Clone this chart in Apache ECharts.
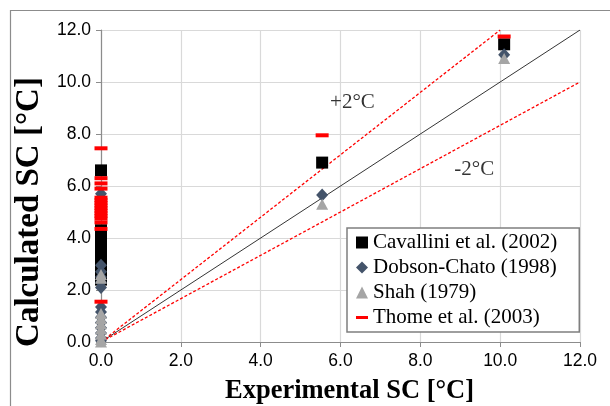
<!DOCTYPE html>
<html><head><meta charset="utf-8">
<script src="https://cdn.jsdelivr.net/npm/echarts@6/dist/echarts.min.js"></script>
<style>html,body{margin:0;padding:0;background:#fff}#c{width:610px;height:406px}</style>
</head><body><div id="c"></div>
<script>
// Data
const cavalliniX = [0,0,0,0,0,0,0,0,0,0,0,0,0,0,0,0,0,0,0,0,0,0,0,5.54,10.1];
const cavalliniY = [6.6,5.3,5.0,4.3,4.2,4.1,4.0,3.9,3.8,3.7,3.6,3.5,3.4,3.3,3.2,3.1,3.0,2.9,2.8,2.7,2.6,2.5,2.4,6.9,11.45];
const dobsonX = [0,0,0,0,0,0,0,0,0,0,0,0,0,0,0,5.54,10.1];
const dobsonY = [5.7,5.1,2.95,2.7,2.5,2.3,2.1,1.35,1.15,0.95,0.75,0.55,0.35,0.15,0.05,5.65,11.05];
const shahX = [0,0,0,0,0,0,0,0,0,5.54,10.1];
const shahY = [2.6,2.45,1.1,0.9,0.7,0.5,0.3,0.1,0.0,5.3,10.9];
const thomeX = [0,0,0,0,0,0,0,0,0,0,0,0,0,0,0,0,5.54,10.1];
const thomeY = [7.45,6.3,6.1,5.9,5.55,5.45,5.35,5.25,5.15,5.05,4.95,4.85,4.75,4.6,4.35,1.55,7.95,11.75];
const idealX = [0,12], idealY = [0,12];
const upperX = [0,10], upperY = [0,12];
const lowerX = [0,12], lowerY = [0,10];
const annoX = [6.3, 9.35], annoY = [9.2, 6.65], annoText = ['+2°C','-2°C'];
const xTicks = [0,2,4,6,8,10,12];
const seriesNames = ['Cavallini et al. (2002)','Dobson-Chato (1998)','Shah (1979)','Thome et al. (2003)'];

const zip = (xs, ys) => xs.map((x,i)=>[x, ys[i]]);
const chart = echarts.init(document.getElementById('c'), null, {renderer:'canvas'});
const serif = '"Liberation Serif","Times New Roman",serif';
const sans = '"Liberation Sans",Arial,sans-serif';
const dashIcon = 'path://M0,0L0,0M0,4.5L12,4.5L12,7.5L0,7.5ZM0,12L0,12';
chart.setOption({
  animation:false,
  backgroundColor:'#fff',
  graphic:[{type:'polyline', shape:{points:[[10.5,406],[10.5,10.5],[610,10.5]]}, style:{stroke:'#8c8c8c', lineWidth:1.2, fill:null}, silent:true}],
  grid:{left:101, right:30, top:30, bottom:64, containLabel:false, outerBoundsMode:'none'},
  xAxis:{type:'value', min:0, max:12, interval:2,
    name:'Experimental SC [°C]', nameLocation:'middle', nameGap:36,
    nameTextStyle:{fontFamily:serif, fontWeight:'bold', fontSize:26.5, color:'#000', padding:[0,0,0,18]},
    axisLine:{show:true, onZero:false, lineStyle:{color:'#8c8c8c', width:1.2}},
    axisTick:{show:true, inside:false, length:5, lineStyle:{color:'#8c8c8c'}},
    axisLabel:{formatter:v=>v.toFixed(1), fontFamily:sans, fontSize:17.5, color:'#000', margin:10},
    splitLine:{show:true, lineStyle:{color:'#d9d9d9', width:1.2}}},
  yAxis:{type:'value', min:0, max:12, interval:2,
    name:'Calculated SC [°C]', nameLocation:'middle', nameGap:46, nameRotate:90,
    nameTextStyle:{fontFamily:serif, fontWeight:'bold', fontSize:33, color:'#000', padding:[0,52,0,0]},
    axisLine:{show:true, onZero:false, lineStyle:{color:'#8c8c8c', width:1.2}},
    axisTick:{show:true, inside:false, length:5, lineStyle:{color:'#8c8c8c'}},
    axisLabel:{formatter:v=>v.toFixed(1), fontFamily:sans, fontSize:17.5, color:'#000', margin:10},
    splitLine:{show:true, lineStyle:{color:'#d9d9d9', width:1.2}}},
  legend:{orient:'vertical', left:347, top:228,
    backgroundColor:'#fff', borderColor:'#7f7f7f', borderWidth:1.5, padding:[4,22,4,9],
    itemWidth:12, itemHeight:12, itemGap:4, selectedMode:false,
    textStyle:{fontFamily:serif, fontSize:21, lineHeight:21, color:'#000'},
    data:[
      {name:seriesNames[0], icon:'rect'},
      {name:seriesNames[1], icon:'diamond'},
      {name:seriesNames[2], icon:'triangle'},
      {name:seriesNames[3], icon:dashIcon}
    ]},
  series:[
    {type:'line', data:zip(idealX, idealY), symbol:'none', lineStyle:{color:'#000', width:0.8}, silent:true, z:1},
    {type:'line', data:zip(upperX, upperY), symbol:'none', lineStyle:{color:'#ff0000', width:1.3, type:[3,2]}, silent:true, z:1},
    {type:'line', data:zip(lowerX, lowerY), symbol:'none', lineStyle:{color:'#ff0000', width:1.3, type:[3,2]}, silent:true, z:1},
    {type:'scatter', data:zip(annoX, annoY).map((p,i)=>({value:p, label:{formatter:annoText[i]}})), symbolSize:0,
      label:{show:true, position:'inside', fontFamily:serif, fontSize:21, color:'#000'}, silent:true, z:1},
    {name:seriesNames[0], type:'scatter', data:zip(cavalliniX, cavalliniY), symbol:'rect', symbolSize:12, itemStyle:{color:'#000', opacity:1}, z:2},
    {name:seriesNames[1], type:'scatter', data:zip(dobsonX, dobsonY), symbol:'diamond', symbolSize:[12,13], itemStyle:{color:'#44546a', opacity:1}, z:3},
    {name:seriesNames[2], type:'scatter', data:zip(shahX, shahY), symbol:'triangle', symbolSize:[12,11], itemStyle:{color:'#a5a5a5', opacity:1}, z:4},
    {name:seriesNames[3], type:'scatter', data:zip(thomeX, thomeY), symbol:'rect', symbolSize:[13,4], itemStyle:{color:'#ff0000', opacity:1}, z:5}
  ]
});
</script></body></html>
